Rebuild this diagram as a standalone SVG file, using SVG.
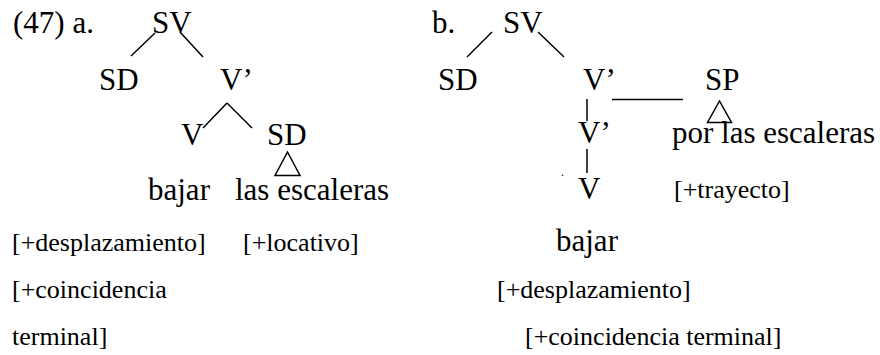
<svg xmlns="http://www.w3.org/2000/svg" width="880" height="355" viewBox="0 0 880 355">
<style>
text{font-family:'Liberation Serif',serif;fill:#000}
.b{font-size:31px}
.s{font-size:26px}
.e line,.e polygon{stroke:#000;stroke-width:1.5;fill:none}
</style>
<rect width="880" height="355" fill="#fff"/>
<g id="labels">
<text class="b" x="13" y="33">(47) a.</text>
<text class="b" x="432" y="33">b.</text>
</g>
<g id="a-SV"><text class="b" x="152" y="33">SV</text></g>
<g id="a-SD"><text class="b" x="99" y="90">SD</text></g>
<g id="a-Vbar"><text class="b" x="220" y="90">V’</text></g>
<g id="a-V"><text class="b" x="181" y="145">V</text></g>
<g id="a-SD2"><text class="b" x="267" y="145">SD</text></g>
<g id="a-bajar"><text class="b" x="148" y="200">bajar</text></g>
<g id="a-escaleras"><text class="b" x="235" y="200">las escaleras</text></g>
<g id="a-feat1"><text class="s" x="12" y="251">[+desplazamiento]</text></g>
<g id="a-feat2"><text class="s" x="243" y="251">[+locativo]</text></g>
<g id="a-feat3"><text class="s" x="12" y="298">[+coincidencia</text><text class="s" x="12" y="345">terminal]</text></g>
<g id="b-SV"><text class="b" x="503" y="33">SV</text></g>
<g id="b-SD"><text class="b" x="438" y="90">SD</text></g>
<g id="b-Vbar"><text class="b" x="583" y="90">V’</text></g>
<g id="b-SP"><text class="b" x="705" y="90">SP</text></g>
<g id="b-Vbar2"><text class="b" x="578" y="143">V’</text></g>
<g id="b-por"><text class="b" x="672" y="143">por las escaleras</text></g>
<g id="b-dot"><text x="561" y="176" font-size="12">.</text></g>
<g id="b-V"><text class="b" x="578" y="199">V</text></g>
<g id="b-trayecto"><text class="s" x="674" y="198">[+trayecto]</text></g>
<g id="b-bajar"><text class="b" x="556" y="251">bajar</text></g>
<g id="b-feat1"><text class="s" x="497" y="298">[+desplazamiento]</text></g>
<g id="b-feat2"><text class="s" x="525" y="345">[+coincidencia terminal]</text></g>
<g id="connectors" class="e">
<line x1="155" y1="33" x2="131" y2="56"/>
<line x1="180" y1="32" x2="203" y2="57"/>
<line x1="227" y1="103" x2="203" y2="128"/>
<line x1="227" y1="103" x2="252" y2="128"/>
<polygon points="287.5,152 275,175.5 300,175.5"/>
<line x1="492" y1="32" x2="467" y2="57"/>
<line x1="538" y1="32" x2="564" y2="57"/>
<line x1="612" y1="99.5" x2="683" y2="99.5"/>
<line x1="587" y1="99" x2="587" y2="121"/>
<polygon points="719.5,101 707.5,122.5 731.5,122.5"/>
<line x1="587" y1="149" x2="587" y2="173"/>
</g>
</svg>
